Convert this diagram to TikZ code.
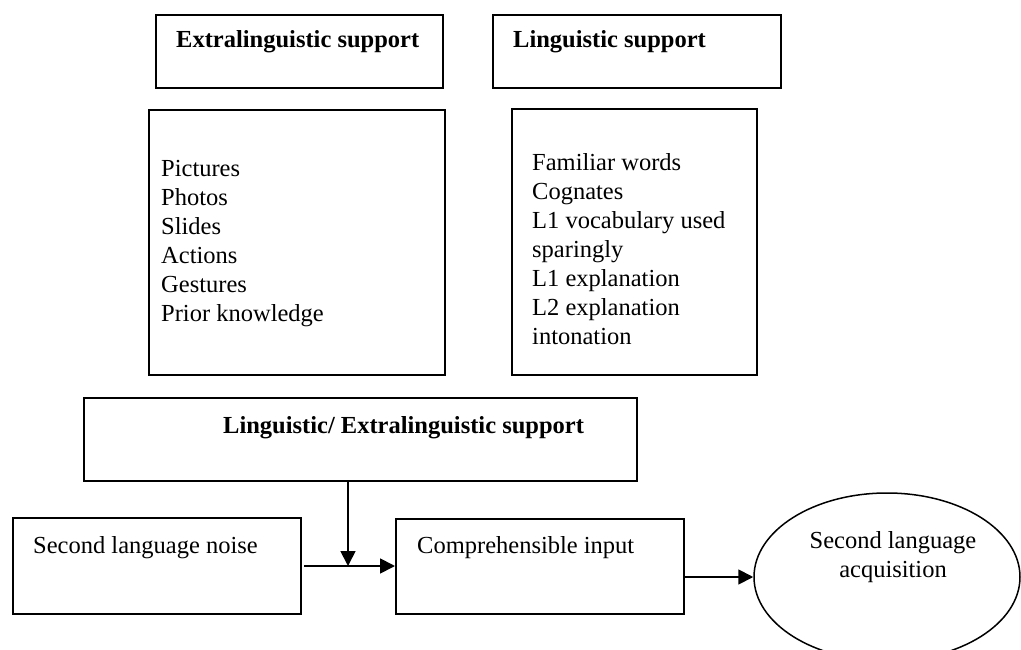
\documentclass[tikz,border=0pt]{standalone}
\usepackage{fontspec}
\setmainfont{Liberation Serif}
\usetikzlibrary{arrows.meta,shapes.geometric}
\begin{document}
\begin{tikzpicture}[x=1pt,y=-1pt,
  box/.style={draw, line width=1.9pt, anchor=north west, inner sep=0pt},
  txt/.style={inner sep=0pt, font=\fontsize{24.5}{29}\selectfont, anchor=base west},
  btxt/.style={inner sep=0pt, font=\fontsize{24.5}{29}\selectfont\bfseries, anchor=base west},
  lst/.style={inner sep=0pt, font=\fontsize{24.5}{29}\selectfont, align=left, anchor=north west},
  arr/.style={line width=1.8pt, -{Triangle[length=15pt,width=15pt]}}]
\useasboundingbox (0,0) rectangle (1021,650);
\clip (0,0) rectangle (1021,650);
% boxes
\node[box, minimum width=287pt, minimum height=73pt] (b1) at (155,14) {};
\node[box, minimum width=288pt, minimum height=73pt] (b2) at (492,14) {};
\node[box, minimum width=296pt, minimum height=265pt] (b3) at (148,109) {};
\node[box, minimum width=245pt, minimum height=266pt] (b4) at (511,108) {};
\node[box, minimum width=553pt, minimum height=83pt] (b5) at (83,397) {};
\node[box, minimum width=288pt, minimum height=96pt] (b6) at (12,517) {};
\node[box, minimum width=288pt, minimum height=95pt] (b7) at (395,518) {};
\node[draw, ellipse, line width=1.5pt, minimum width=266pt, minimum height=168pt, inner sep=0pt] (e) at (887,577) {};
% texts
\node[btxt] (t1) at (176,48) {Extralinguistic support};
\node[btxt] (t2) at (513,48) {Linguistic support};
\node[lst] (t3) at (161,160.3) {Pictures\\Photos\\Slides\\Actions\\Gestures\\Prior knowledge};
\node[lst] (t4) at (532,153.3) {Familiar words\\Cognates\\L1 vocabulary used\\sparingly\\L1 explanation\\L2 explanation\\intonation};
\node[btxt] (t5) at (223,433) {Linguistic/ Extralinguistic support};
\node[txt] (t6) at (33,553) {Second language noise};
\node[txt] (t7) at (417,553) {Comprehensible input};
\node[inner sep=0pt, font=\fontsize{24.5}{29}\selectfont, align=center, anchor=north] (t8) at (893,531.3) {Second language\\acquisition};
% connectors
\coordinate (j) at (348,566);
\coordinate (n) at (304,566);
\coordinate (m) at (683,577);
\draw[arr] (b5.south -| j) -- (j);
\draw[arr] (n) -- (b7.west |- n);
\draw[arr] (m) -- (e.west);
\end{tikzpicture}
\end{document}
